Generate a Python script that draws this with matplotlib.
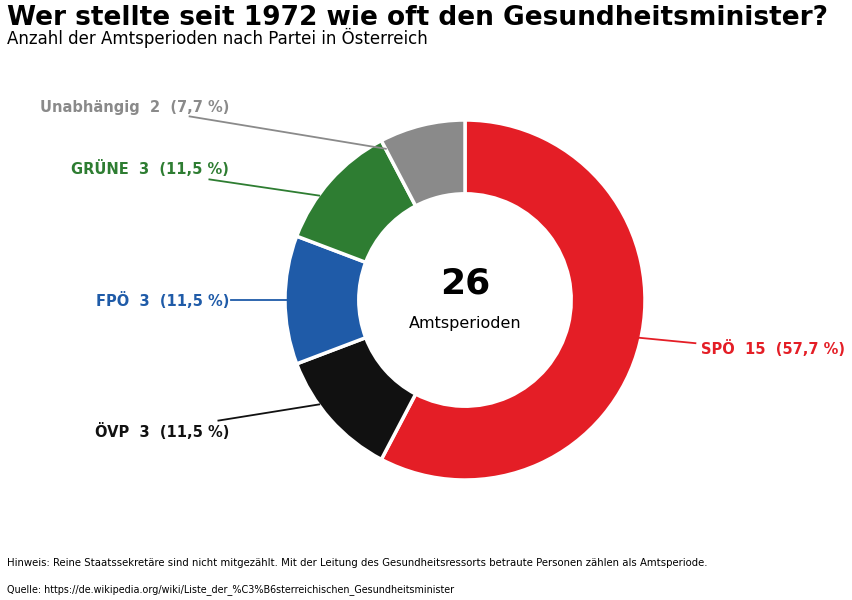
import matplotlib.pyplot as plt

parteien = ["SPÖ", "ÖVP", "FPÖ", "GRÜNE", "Unabhängig"]
perioden = [15, 3, 3, 3, 2]
farben = ["#e41e26", "#111111", "#1f5ba8", "#2e7d32", "#8a8a8a"]
# label position (text anchor) and line end on the ring, in data units (radius 1)
label_pos = [(1.31, -0.27), (-1.31, -0.73), (-1.31, 0.0), (-1.31, 0.73), (-1.31, 1.07)]
line_end = [(0.97, -0.21), (-0.81, -0.58), (-0.98, 0.0), (-0.81, 0.58), (-0.44, 0.84)]
line_start = [(1.28, -0.24), (-1.37, -0.67), (-1.30, 0.0), (-1.42, 0.67), (-1.53, 1.02)]

gesamt = sum(perioden)

fig = plt.figure(figsize=(8.52, 6), dpi=100)
ax = fig.add_axes([(465 - 180) / 852, (300 - 180) / 600, 360 / 852, 360 / 600])
ax.pie(perioden, colors=farben, startangle=90, counterclock=False, radius=1,
       wedgeprops=dict(width=0.41, edgecolor="white", linewidth=2.5))
ax.set_xlim(-1, 1)
ax.set_ylim(-1, 1)
ax.set_aspect("equal")

for name, n, c, (tx, ty), (ex, ey), (sx, sy) in zip(parteien, perioden, farben, label_pos, line_end, line_start):
    pct = f"{n / gesamt * 100:.1f}".replace(".", ",")
    ha = "left" if tx > 0 else "right"
    ax.text(tx, ty, f"{name}  {n}  ({pct} %)", color=c, fontsize=10.5, fontweight="bold",
            ha=ha, va="center", clip_on=False)
    ax.plot([sx, ex], [sy, ey], color=c, lw=1.3, clip_on=False)

ax.text(0, 0.09, str(gesamt), fontsize=26, fontweight="bold", ha="center", va="center")
ax.text(0, -0.13, "Amtsperioden", fontsize=11.5, ha="center", va="center")

fig.text(0.008, 0.97, "Wer stellte seit 1972 wie oft den Gesundheitsminister?",
         fontsize=19, fontweight="bold", va="center")
fig.text(0.008, 0.937, "Anzahl der Amtsperioden nach Partei in Österreich", fontsize=12, va="center")
fig.text(0.008, 0.062, "Hinweis: Reine Staatssekretäre sind nicht mitgezählt. Mit der Leitung des "
         "Gesundheitsressorts betraute Personen zählen als Amtsperiode.", fontsize=7.3, va="center")
fig.text(0.008, 0.018, "Quelle: https://de.wikipedia.org/wiki/Liste_der_%C3%B6sterreichischen_Gesundheitsminister",
         fontsize=6.9, va="center")

fig.savefig("out.png", dpi=100)
